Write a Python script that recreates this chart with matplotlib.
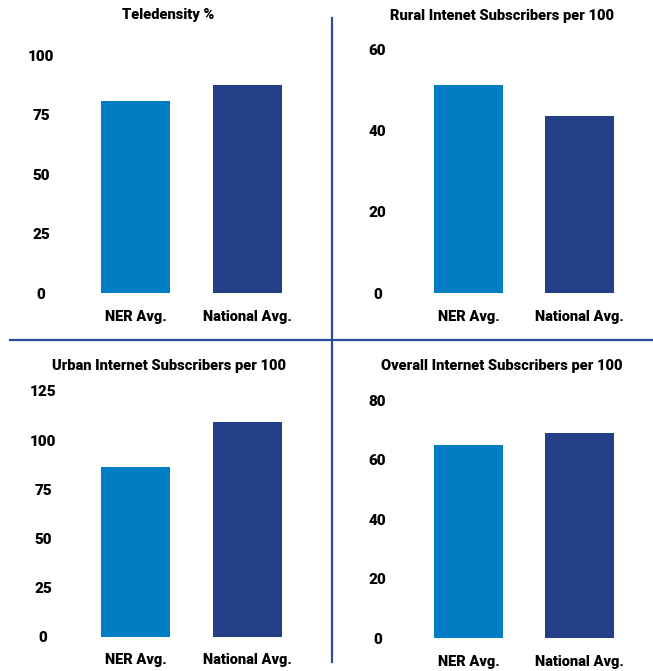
import matplotlib
matplotlib.use('Agg')
import matplotlib.pyplot as plt
from matplotlib.lines import Line2D

plt.rcParams['font.family'] = ['Roboto', 'DejaVu Sans']
plt.rcParams['font.weight'] = 'heavy'

categories = ['NER Avg.', 'National Avg.']
titles = ['Teledensity %', 'Rural Intenet Subscribers per 100',
          'Urban Internet Subscribers per 100', 'Overall Internet Subscribers per 100']
teledensity = [80.8, 87.5]
rural = [51.2, 43.6]
urban = [86.2, 109.2]
overall = [64.9, 68.9]
yticks_list = [[0, 25, 50, 75, 100], [0, 20, 40, 60],
               [0, 25, 50, 75, 100, 125], [0, 20, 40, 60, 80]]

colors = ['#007DC3', '#223F87']
line_color = '#2B4C9B'

W, H = 653, 671
fig = plt.figure(figsize=(W / 100, H / 100), dpi=100)

# panel boxes in pixels: left, right, bottom(y of 0), top(y of max tick)
boxes = [(68.3, 314.7, 293.3, 55.0),
         (401.9, 646.1, 293.3, 49.3),
         (68.3, 314.7, 636.7, 391.0),
         (401.9, 646.1, 638.3, 400.0)]
label_pad = [19.6, 17.6, 18.2, 17.6]
title_pos = [(168, 15), (502, 16), (169.5, 366), (502, 366)]
data = [teledensity, rural, urban, overall]

for i in range(4):
    l, r, b, t = boxes[i]
    ax = fig.add_axes([l / W, 1 - b / H, (r - l) / W, (b - t) / H])
    ax.bar([0, 1], data[i], width=0.62, color=colors)
    ax.set_xlim(-0.6, 1.6)
    ax.set_ylim(0, yticks_list[i][-1])
    ax.set_xticks([0, 1])
    ax.set_xticklabels(categories, fontsize=10.5, fontweight='heavy')
    ax.set_yticks(yticks_list[i])
    ax.set_yticklabels([str(v) for v in yticks_list[i]], fontsize=11, fontweight='heavy', ha='center')
    ax.tick_params(axis='y', length=0, pad=label_pad[i])
    ax.tick_params(axis='x', length=0, pad=12)
    for s in ax.spines.values():
        s.set_visible(False)
    tx, ty = title_pos[i]
    fig.text(tx / W, 1 - ty / H, titles[i], ha='center', va='center', fontsize=10.5, fontweight='heavy')

# divider lines
fig.add_artist(Line2D([10 / W, 1], [1 - 340.3 / H, 1 - 340.3 / H], color=line_color, lw=1.6))
fig.add_artist(Line2D([331.7 / W, 331.7 / W], [1 - 18 / H, 1 - 662 / H], color=line_color, lw=1.6))

fig.savefig('out.png', dpi=100)
